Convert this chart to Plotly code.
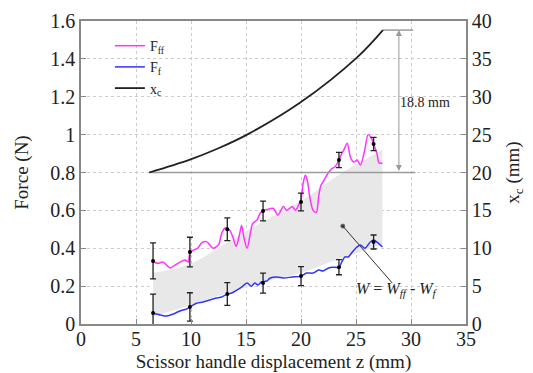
import plotly.graph_objects as go

# ---- data ----
z_ff = [6.55, 7.0, 7.45, 8.1, 8.5, 9.0, 9.45, 9.75, 9.9, 10.2, 10.6, 11.0, 11.4, 11.7, 12.0,
        12.5, 12.8, 13.1, 13.5, 13.8, 14.1, 14.4, 14.6, 14.8, 15.1, 15.4, 15.6, 16.0, 16.3,
        16.6, 16.9, 17.5, 17.9, 18.4, 18.7, 19.2, 19.5, 19.8, 20.0, 20.2, 20.4, 20.6, 20.8,
        21.1, 21.4, 21.6, 21.8, 22.0, 22.5, 22.8, 23.1, 23.45, 23.7, 23.9, 24.2, 24.5, 24.8,
        25.1, 25.4, 25.8, 26.1, 26.4, 26.6, 26.9, 27.1, 27.4]
f_ff = [0.33, 0.32, 0.327, 0.296, 0.31, 0.327, 0.338, 0.327, 0.375, 0.39, 0.40, 0.43, 0.435,
        0.418, 0.40, 0.418, 0.48, 0.507, 0.496, 0.46, 0.41, 0.47, 0.52, 0.46, 0.40, 0.48, 0.53,
        0.55, 0.586, 0.60, 0.605, 0.61, 0.575, 0.62, 0.60, 0.62, 0.60, 0.63, 0.655, 0.745,
        0.787, 0.75, 0.67, 0.60, 0.59, 0.67, 0.73, 0.75, 0.80, 0.82, 0.83, 0.866, 0.90, 0.92,
        0.955, 0.88, 0.855, 0.866, 0.84, 0.92, 1.0, 0.98, 0.95, 0.90, 0.85, 0.85]

z_f = [6.55, 7.2, 7.8, 8.4, 9.0, 9.6, 9.9, 10.5, 11.1, 11.7, 12.3, 12.8, 13.3, 13.7, 14.2,
       14.6, 15.1, 15.5, 15.8, 16.1, 16.4, 16.9, 17.2, 17.8, 18.4, 19.2, 20.0, 20.5, 21.1,
       21.6, 22.0, 22.5, 22.9, 23.45, 23.7, 24.0, 24.3, 24.6, 25.1, 25.4, 25.8, 26.3, 26.6,
       27.0, 27.4]
f_f = [0.058, 0.048, 0.042, 0.053, 0.069, 0.079, 0.09, 0.11, 0.116, 0.127, 0.137, 0.143,
       0.158, 0.164, 0.18, 0.195, 0.216, 0.20, 0.216, 0.206, 0.222, 0.227, 0.243, 0.248,
       0.243, 0.248, 0.253, 0.269, 0.269, 0.285, 0.28, 0.296, 0.30, 0.30, 0.327, 0.354,
       0.354, 0.375, 0.407, 0.417, 0.40, 0.433, 0.443, 0.428, 0.407]

z_pts = [6.55, 9.9, 13.3, 16.55, 20.0, 23.45, 26.6]
ff_mean = [0.333, 0.38, 0.50, 0.597, 0.644, 0.866, 0.95]
ff_err = [0.095, 0.078, 0.06, 0.052, 0.047, 0.04, 0.035]
f_mean = [0.058, 0.09, 0.158, 0.216, 0.253, 0.30, 0.433]
f_err = [0.10, 0.075, 0.06, 0.053, 0.05, 0.04, 0.037]

z_band = [6.55, 10.0, 13.3, 16.5, 20.0, 23.5, 27.4]
band_hi = [0.27, 0.32, 0.43, 0.54, 0.65, 0.79, 0.92]
band_lo = [0.04, 0.10, 0.165, 0.22, 0.27, 0.345, 0.42]

z_xc = [6.2, 9.9, 12.5, 15.1, 19.9, 25.1, 27.45]
xc = [20.0, 21.7, 23.2, 25.0, 29.2, 35.2, 38.8]

# annotation geometry (18.8 mm span)
xc_lo, xc_hi = 20.0, 38.8
base_line_z = [6.2, 30.4]
top_line_z = [27.45, 30.2]
arrow_z = 28.9
w_line_z = [23.8, 28.3]
w_line_f = [0.517, 0.216]

FONT = "Liberation Serif, Times New Roman, serif"
MAG = "#ff33ff"
BLUE = "#3333ff"
GRAY = "#9a9a9a"
TXT = "#222222"

fig = go.Figure()

# gray band
fig.add_trace(go.Scatter(x=z_band, y=band_lo, mode="lines", line=dict(width=0, shape="spline"),
                         showlegend=False, hoverinfo="skip"))
fig.add_trace(go.Scatter(x=z_band, y=band_hi, mode="lines", line=dict(width=0, shape="spline"),
                         fill="tonexty", fillcolor="#e8e8e8", showlegend=False, hoverinfo="skip"))

# reference lines for the 18.8 mm span
fig.add_trace(go.Scatter(x=base_line_z, y=[xc_lo, xc_lo], yaxis="y2", mode="lines",
                         line=dict(color=GRAY, width=1.5), showlegend=False, hoverinfo="skip"))
fig.add_trace(go.Scatter(x=top_line_z, y=[xc_hi, xc_hi], yaxis="y2", mode="lines",
                         line=dict(color=GRAY, width=1.5), showlegend=False, hoverinfo="skip"))

# curves
fig.add_trace(go.Scatter(x=z_ff, y=f_ff, mode="lines", name="F<sub>ff</sub>",
                         line=dict(color=MAG, width=1.5, shape="spline", smoothing=0.8)))
fig.add_trace(go.Scatter(x=z_f, y=f_f, mode="lines", name="F<sub>f</sub>",
                         line=dict(color=BLUE, width=1.5, shape="spline", smoothing=0.8)))
fig.add_trace(go.Scatter(x=z_xc, y=xc, yaxis="y2", mode="lines", name="x<sub>c</sub>",
                         line=dict(color=TXT, width=1.8, shape="spline")))

# error bars
for m, e in [(ff_mean, ff_err), (f_mean, f_err)]:
    fig.add_trace(go.Scatter(x=z_pts, y=m, mode="markers",
                             marker=dict(color="black", size=4),
                             error_y=dict(type="data", array=e, color=TXT,
                                          thickness=1.3, width=3),
                             showlegend=False, hoverinfo="skip"))

# W pointer line
fig.add_trace(go.Scatter(x=w_line_z, y=w_line_f, mode="lines+markers",
                         line=dict(color="#333333", width=1),
                         marker=dict(color="black", size=[4, 0]),
                         showlegend=False, hoverinfo="skip"))

fig.add_annotation(x=arrow_z, y=xc_hi, xref="x", yref="y2", ax=arrow_z, ay=xc_lo,
                   axref="x", ayref="y2", text="", showarrow=True, arrowhead=2,
                   arrowside="end+start", arrowsize=1.2, arrowwidth=1, arrowcolor=GRAY)
fig.add_annotation(x=31.3, y=29.2, xref="x", yref="y2", text="18.8 mm", showarrow=False,
                   font=dict(family=FONT, size=14, color=TXT))
fig.add_annotation(x=28.7, y=0.18, xref="x", yref="y",
                   text="<i>W</i> = <i>W<sub>ff</sub></i> - <i>W<sub>f</sub></i>",
                   showarrow=False, font=dict(family=FONT, size=16, color=TXT))

axis_common = dict(showline=True, linecolor="#888888", linewidth=1.5, ticks="inside",
                   ticklen=5, tickcolor="#888888", automargin=False,
                   tickfont=dict(family=FONT, size=20, color=TXT), zeroline=False)

fig.update_layout(
    width=533, height=373,
    margin=dict(l=81, r=67, t=21, b=49),
    paper_bgcolor="white", plot_bgcolor="white",
    font=dict(family=FONT, color=TXT),
    showlegend=True,
    legend=dict(x=0.075, y=0.97, xanchor="left", yanchor="top", bgcolor="rgba(0,0,0,0)",
                font=dict(family=FONT, size=14, color=TXT), tracegroupgap=0,
                traceorder="normal", itemwidth=30),
    xaxis=dict(range=[0, 35], dtick=5, showgrid=True, gridcolor="#cccccc", griddash="dot",
               mirror=True, ticklabelstandoff=-4,
               title=dict(text="Scissor handle displacement z (mm)",
                          font=dict(family=FONT, size=19, color=TXT), standoff=6),
               **axis_common),
    yaxis=dict(range=[0, 1.6], showgrid=True, gridcolor="#cccccc", griddash="dot",
               tickvals=[0, 0.2, 0.4, 0.6, 0.8, 1, 1.2, 1.4, 1.6],
               ticktext=["0", "0.2", "0.4", "0.6", "0.8", "1", "1.2", "1.4", "1.6"],
               title=dict(text="Force (N)", font=dict(family=FONT, size=19, color=TXT),
                          standoff=17),
               **axis_common),
    yaxis2=dict(range=[0, 40], dtick=5, overlaying="y", side="right", showgrid=False,
                title=dict(text="x<sub>c</sub> (mm)", font=dict(family=FONT, size=19, color=TXT),
                           standoff=15),
                **axis_common),
)

fig.write_html("out.html", post_script="document.body.style.margin='0';",
               config={"displayModeBar": False})
